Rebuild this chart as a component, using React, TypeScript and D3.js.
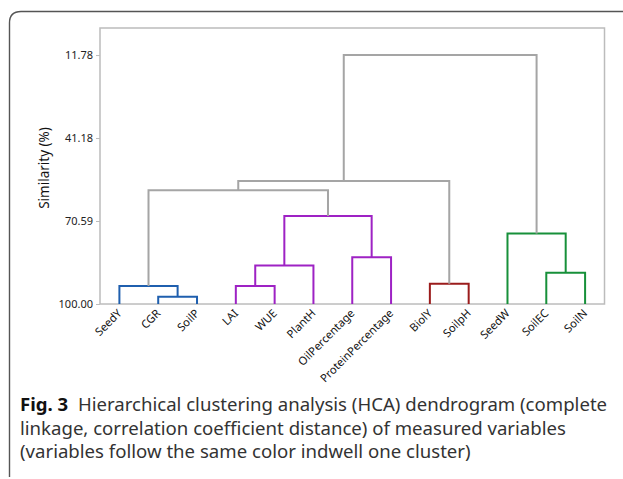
import React, { useEffect, useRef } from 'react';
import * as d3 from 'd3';

// leaf order along the x axis
const leaves = ['SeedY', 'CGR', 'SoilP', 'LAI', 'WUE', 'PlantH', 'OilPercentage',
  'ProteinPercentage', 'BiolY', 'SoilpH', 'SeedW', 'SoilEC', 'SoilN'];

// merges: [childA, childB, similarity]; ids >= leaves.length point to earlier merges
const mergeA = [1, 0, 3, 15, 6, 16, 8, 11, 10, 14, 22, 23];
const mergeB = [2, 13, 4, 5, 7, 17, 9, 12, 20, 18, 19, 21];
const mergeSim = [97.4, 93.6, 93.6, 86.4, 83.4, 68.8, 92.8, 88.9, 75.0, 59.7, 56.4, 11.78];
const mergeCluster = ['blue', 'blue', 'purple', 'purple', 'purple', 'purple', 'red',
  'green', 'green', 'none', 'none', 'none'];

const yTicks = [11.78, 41.18, 70.59, 100.0];

const colors = {
  blue: '#1f5fae',
  purple: '#9e22c4',
  red: '#9b1c1c',
  green: '#17903a',
  none: '#a5a5a5'
};

const captionLines = [
  ['Fig. 3', '  Hierarchical clustering analysis (HCA) dendrogram (complete'],
  ['', 'linkage, correlation coefficient distance) of measured variables'],
  ['', '(variables follow the same color indwell one cluster)']
];

const W = 623;
const H = 479;

const drawChart = (node) => {
  const svg = d3.select(node);
  svg.selectAll('*').remove();

  const plot = { left: 100, right: 604.5, top: 28, bottom: 304 };

  const x = d3.scalePoint()
    .domain(leaves)
    .range([plot.left, plot.right])
    .padding(0.5);

  const y = d3.scaleLinear()
    .domain([2.2, 100])
    .range([plot.top, plot.bottom]);

  // outer figure box (open to the right / bottom)
  svg.append('path')
    .attr('d', `M9.5,477 L9.5,23 Q9.5,11.5 21,11.5 L${W},11.5`)
    .attr('fill', 'none')
    .attr('stroke', '#555')
    .attr('stroke-width', 1.4);

  // plot frame
  svg.append('rect')
    .attr('x', plot.left)
    .attr('y', plot.top)
    .attr('width', plot.right - plot.left)
    .attr('height', plot.bottom - plot.top)
    .attr('fill', 'none')
    .attr('stroke', '#bcbcbc')
    .attr('stroke-width', 1.5);

  // y axis
  const yAxis = d3.axisLeft(y)
    .tickValues(yTicks)
    .tickFormat(d3.format('.2f'))
    .tickSize(4)
    .tickPadding(3);

  const gy = svg.append('g')
    .attr('transform', `translate(${plot.left},0)`)
    .call(yAxis);
  gy.select('.domain').remove();
  gy.selectAll('line').attr('stroke', '#bcbcbc');
  gy.selectAll('text')
    .attr('font-family', '"Noto Sans", sans-serif')
    .attr('font-size', 11)
    .attr('fill', '#222');

  svg.append('text')
    .attr('transform', `translate(49,${(plot.top + plot.bottom) / 2 + 2}) rotate(-90)`)
    .attr('text-anchor', 'middle')
    .attr('font-family', '"Noto Sans", sans-serif')
    .attr('font-size', 13.5)
    .attr('fill', '#111')
    .text('Similarity (%)');

  // node positions
  const n = leaves.length;
  const nodeX = leaves.map(l => x(l));
  const nodeSim = leaves.map(() => 100);

  const links = mergeA.map((a, i) => {
    const b = mergeB[i];
    const s = mergeSim[i];
    const xa = nodeX[a];
    const xb = nodeX[b];
    nodeX[n + i] = (xa + xb) / 2;
    nodeSim[n + i] = s;
    return {
      d: `M${xa},${y(nodeSim[a])}V${y(s)}H${xb}V${y(nodeSim[b])}`,
      color: colors[mergeCluster[i]]
    };
  });

  svg.append('g')
    .selectAll('path')
    .data(links)
    .enter()
    .append('path')
    .attr('d', d => d.d)
    .attr('fill', 'none')
    .attr('stroke', d => d.color)
    .attr('stroke-width', 2);

  // leaf labels
  svg.append('g')
    .selectAll('text')
    .data(leaves)
    .enter()
    .append('text')
    .attr('transform', d => `translate(${x(d) + 3},${plot.bottom + 10}) rotate(-45)`)
    .attr('text-anchor', 'end')
    .attr('font-family', '"Noto Sans", sans-serif')
    .attr('font-size', 11.2)
    .attr('fill', '#111')
    .text(d => d);

  // caption
  const cap = svg.append('g')
    .attr('font-family', '"Noto Sans", sans-serif')
    .attr('font-size', 18.6)
    .attr('fill', '#333');

  captionLines.forEach((line, i) => {
    const t = cap.append('text')
      .attr('x', 20)
      .attr('y', 411 + i * 23.5)
      .attr('xml:space', 'preserve');
    if (line[0]) {
      t.append('tspan').attr('font-weight', 'bold').attr('fill', '#111').text(line[0]);
    }
    t.append('tspan').text(line[1]);
  });
};

const App = () => {
  const ref = useRef(null);

  useEffect(() => {
    drawChart(ref.current);
  }, []);

  return (
    <svg
      ref={ref}
      width={W}
      height={H}
      style={{ position: 'absolute', left: 0, top: 0, background: '#fff' }}
    />
  );
};

export default App;
